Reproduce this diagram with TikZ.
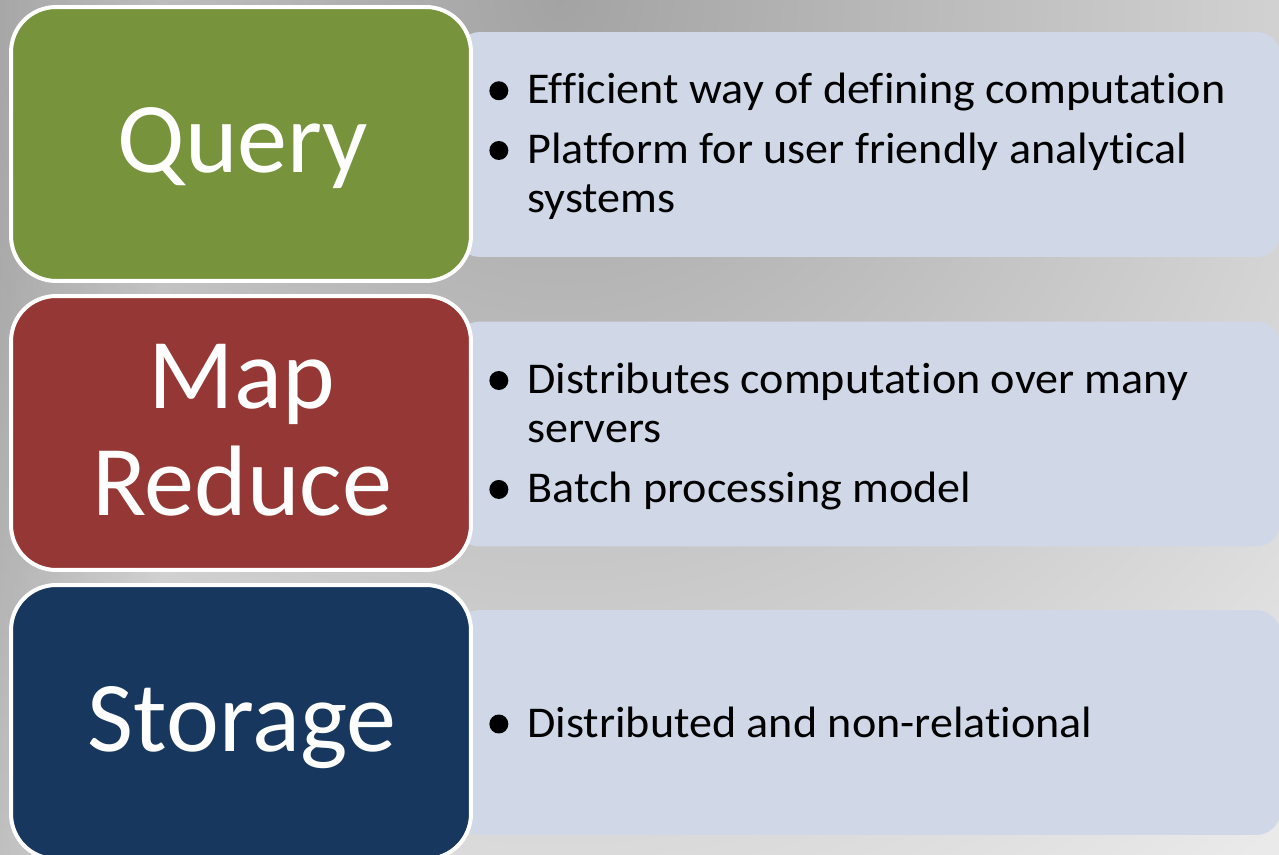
\documentclass[tikz,border=0pt]{standalone}
\usepackage{fontspec}
\setmainfont{Carlito}[Ligatures=NoCommon]
\newfontfamily\descfont{Carlito}[FakeStretch=1.05,Ligatures=NoCommon]
\usepackage{xcolor}
\usepackage{tikz}
\usetikzlibrary{fadings}
\definecolor{QueryGreen}{HTML}{77933C}
\definecolor{MapRed}{HTML}{953735}
\definecolor{StoreBlue}{HTML}{17375E}
\definecolor{PanelBlue}{HTML}{D0D8E8}
\definecolor{BackGray}{HTML}{EAEAEA}
\newcommand{\bitem}[1]{\makebox[0.76cm][l]{\raisebox{0.07cm}{\tikz\fill (0,0) circle (0.19cm);}}#1}
\newcommand{\bcont}[1]{\hspace*{0.76cm}#1}
\begin{document}
\begin{tikzpicture}[x=0.02cm,y=-0.02cm,
  layer/.style={draw=white,line width=0.08cm,rounded corners=0.9cm,minimum width=9.2cm,minimum height=5.48cm,inner sep=0},
  panel/.style={fill=PanelBlue,rounded corners=0.5cm,minimum width=16.52cm,minimum height=4.5cm,inner sep=0},
  title/.style={text=white,font=\fontsize{57}{61}\selectfont,align=center,inner sep=0},
  desc/.style={font=\descfont\fontsize{25}{28}\selectfont,align=left,inner sep=0,anchor=west}]
\useasboundingbox (0,0) rectangle (1279,855);
\clip (0,0) rectangle (1279,855);
\fill[BackGray] (0,0) rectangle (1279,855);
\shade[inner color=black!36,outer color=BackGray] (560,0) circle (1100);
\fill[black,opacity=0.16,path fading=east] (0,0) rectangle (160,855);
\node[panel] (querypanel) at (868,144.5) {};
\node[panel] (mappanel) at (868,434) {};
\node[panel] (storepanel) at (868,722.5) {};
\node[layer,fill=QueryGreen] (query) at (241,144) {};
\node[layer,fill=MapRed] (mapred) at (241,433) {};
\node[layer,fill=StoreBlue] (storage) at (241,722) {};
\node[title,anchor=base] (querylabel) at (243,173) {Query};
\node[title] (maplabel) at (242,430) {Map\\Reduce};
\node[title,anchor=base] (storelabel) at (242,751) {Storage};
\node[desc] (querytext) at (489,146.5) {\bitem{Efficient way of defining computation}\\[6pt]
  \bitem{Platform for user friendly analytical}\\ \bcont{systems}};
\node[desc] (maptext) at (489,436.5) {\bitem{Distributes computation over many}\\ \bcont{servers}\\[6pt]
  \bitem{Batch processing model}};
\node[desc,anchor=base west] (storetext) at (489,737) {\bitem{Distributed and non-relational}};
\end{tikzpicture}
\end{document}
